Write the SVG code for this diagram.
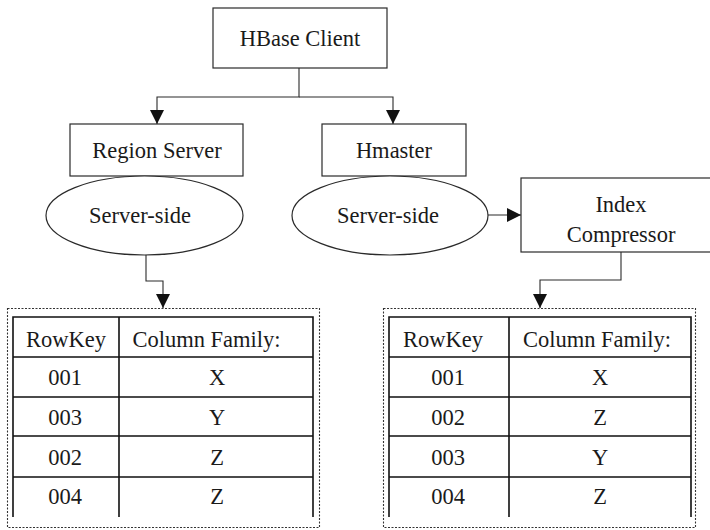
<svg xmlns="http://www.w3.org/2000/svg" width="710" height="530" viewBox="0 0 710 530">
  <style>
    .box { fill: #fff; stroke: #2a2a2a; stroke-width: 1.2; }
    .wire { fill: none; stroke: #2a2a2a; stroke-width: 1.1; }
    .frame { fill: none; stroke: #333; stroke-width: 1.1; stroke-dasharray: 2 1.5; }
    .grid { fill: none; stroke: #111; stroke-width: 1.6; }
    .lbl { font-size: 22.5px; fill: #1a1a1a; text-anchor: middle; }
  </style>
  <defs>
    <marker id="arrow" viewBox="0 0 14 14" refX="14" refY="7" markerWidth="14" markerHeight="14" markerUnits="userSpaceOnUse" orient="auto">
      <path d="M0,0 L14,7 L0,14 Z" fill="#111"/>
    </marker>
  </defs>

  <rect width="710" height="530" fill="#fff"/>

  <!-- connectors -->
  <g id="connectors">
    <path class="wire" d="M299,68 V97 H157 V124" marker-end="url(#arrow)"/>
    <path class="wire" d="M299,97 H393 V124" marker-end="url(#arrow)"/>
    <path class="wire" d="M488,215 H521" marker-end="url(#arrow)"/>
    <path class="wire" d="M146,255 V281 H163 V308" marker-end="url(#arrow)"/>
    <path class="wire" d="M621,252 V280 H540 V308" marker-end="url(#arrow)"/>
  </g>

  <g font-family="Liberation Serif, Times New Roman, DejaVu Serif, serif">
  <g id="hbase-client">
    <rect class="box" x="213" y="8" width="174" height="60"/>
    <text class="lbl" x="300" y="46">HBase Client</text>
  </g>

  <g id="region-server">
    <rect class="box" x="70" y="124" width="173" height="52"/>
    <text class="lbl" x="157" y="158">Region Server</text>
  </g>

  <g id="hmaster">
    <rect class="box" x="322" y="124" width="144" height="52"/>
    <text class="lbl" x="394" y="158">Hmaster</text>
  </g>

  <g id="server-side-left">
    <ellipse class="box" cx="144.5" cy="215.5" rx="98.5" ry="39.5"/>
    <text class="lbl" x="140" y="223">Server-side</text>
  </g>

  <g id="server-side-right">
    <ellipse class="box" cx="390" cy="215.5" rx="98" ry="39.5"/>
    <text class="lbl" x="388" y="223">Server-side</text>
  </g>

  <g id="index-compressor">
    <rect class="box" x="521" y="178" width="200" height="74"/>
    <text class="lbl" x="621" y="212">Index</text>
    <text class="lbl" x="621" y="242">Compressor</text>
  </g>

  <!-- region table before compression -->
  <g id="table-left">
    <rect class="frame" x="7.5" y="308.5" width="312" height="219"/>
    <path class="grid" d="M13,517 V317 H313 V517 M119,317 V517 M13,357 H313 M13,397 H313 M13,436 H313 M13,477 H313"/>
    <text class="lbl" x="66" y="347">RowKey</text>
    <text class="lbl" x="206.5" y="347">Column Family:</text>
    <text class="lbl" x="65" y="385">001</text>
    <text class="lbl" x="217" y="385">X</text>
    <text class="lbl" x="65" y="425">003</text>
    <text class="lbl" x="217" y="425">Y</text>
    <text class="lbl" x="65" y="465">002</text>
    <text class="lbl" x="217" y="465">Z</text>
    <text class="lbl" x="65" y="504">004</text>
    <text class="lbl" x="217" y="504">Z</text>
  </g>

  <!-- region table after compression -->
  <g id="table-right">
    <rect class="frame" x="383.5" y="308.5" width="312" height="219"/>
    <path class="grid" d="M389,517 V317 H691 V517 M509,317 V517 M389,357 H691 M389,397 H691 M389,436 H691 M389,477 H691"/>
    <text class="lbl" x="443" y="347">RowKey</text>
    <text class="lbl" x="597" y="347">Column Family:</text>
    <text class="lbl" x="448" y="385">001</text>
    <text class="lbl" x="600" y="385">X</text>
    <text class="lbl" x="448" y="425">002</text>
    <text class="lbl" x="600" y="425">Z</text>
    <text class="lbl" x="448" y="465">003</text>
    <text class="lbl" x="600" y="465">Y</text>
    <text class="lbl" x="448" y="504">004</text>
    <text class="lbl" x="600" y="504">Z</text>
  </g>
  </g>
</svg>
